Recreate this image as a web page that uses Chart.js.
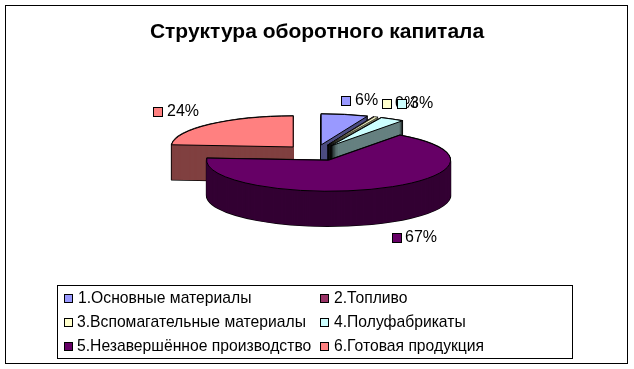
<!DOCTYPE html>
<html>
<head>
<meta charset="utf-8">
<title>Структура оборотного капитала</title>
<script src="https://cdn.jsdelivr.net/npm/chart.js@4"></script>
<style>
  html, body { margin: 0; padding: 0; background: #fff; }
  canvas { display: block; }
</style>
</head>
<body>
<canvas id="my-chart" width="634" height="369"></canvas>
<script>
const categories = ["1.Основные материалы", "2.Топливо", "3.Вспомагательные материалы", "4.Полуфабрикаты", "5.Незавершённое производство", "6.Готовая продукция"];
const shares = [6.2, 0.1, 0.5, 3.2, 66.5, 24.0];
const shareLabels = ["6%", "", "0%", "3%", "67%", "24%"];
const topColors = ["#9999FF", "#993366", "#FFFFCC", "#CCFFFF", "#660066", "#FF8080"];
const sideColors = ["#4C4C80", "#4D1A33", "#808066", "#668080", "#330033", "#804040"];

// fake 3d look
const SQUASH = 0.254;
const DEPTH = 35;
const NUDGE_X = -2;
const PAINT_ORDER = [5, 0, 1, 2, 3, 4];
const FONT = '"Liberation Sans", Arial, sans-serif';

// where the value labels sit: key box x, key box y, text x
const labelSpots = [[341, 96, 355], null, [382, 99, 395], [397, 99, 410], [392, 233, 405], [153, 107, 167]];
// legend keys: x, y, text x
const legendSpots = [[64, 294, 78], [320, 294, 334], [64, 318, 77], [320, 318, 334], [64, 342, 77], [320, 342, 334]];

function slicePath(ctx, el, dy) {
  const mid = (el.startAngle + el.endAngle) / 2;
  const off = el.options.offset;
  const rx = el.outerRadius;
  const x = el.x + NUDGE_X + Math.cos(mid) * off;
  const y = el.y + Math.sin(mid) * off * SQUASH + dy;
  ctx.beginPath();
  ctx.moveTo(x, y);
  ctx.ellipse(x, y, rx, rx * SQUASH, 0, el.startAngle, el.endAngle);
  ctx.closePath();
}

function drawKey(ctx, x, y, size, color) {
  ctx.fillStyle = color;
  ctx.fillRect(x, y, size, size);
  ctx.strokeStyle = "#000";
  ctx.lineWidth = 1;
  ctx.strokeRect(x + 0.5, y + 0.5, size - 1, size - 1);
}

const pie3d = {
  id: "pie3d",
  beforeDraw(chart) {
    const ctx = chart.ctx;
    ctx.save();
    ctx.strokeStyle = "#000";
    ctx.lineWidth = 1;
    ctx.strokeRect(5.5, 5.5, 622, 358);
    ctx.restore();
  },
  beforeDatasetDraw(chart, args) {
    const ctx = chart.ctx;
    const arcs = args.meta.data;
    ctx.save();
    ctx.lineJoin = "round";
    PAINT_ORDER.forEach(i => {
      const el = arcs[i];
      // thin slices would turn solid black with the normal outline
      const thin = el.endAngle - el.startAngle < 0.1;
      // black silhouette of the whole stack first, then the side colour over it
      ctx.strokeStyle = "#000";
      ctx.lineWidth = thin ? 0.6 : 1.4;
      for (let dy = DEPTH; dy >= 0; dy--) {
        slicePath(ctx, el, dy);
        ctx.stroke();
      }
      ctx.fillStyle = sideColors[i];
      for (let dy = DEPTH; dy >= 0; dy--) {
        slicePath(ctx, el, dy);
        ctx.fill();
      }
      slicePath(ctx, el, 0);
      ctx.fillStyle = topColors[i];
      ctx.fill();
      ctx.strokeStyle = "#000";
      ctx.lineWidth = thin ? 0.6 : 1;
      ctx.stroke();
    });
    ctx.restore();
    return false;
  },
  afterDraw(chart) {
    const ctx = chart.ctx;
    ctx.save();
    ctx.textBaseline = "middle";
    ctx.textAlign = "left";

    // value labels
    ctx.font = "16px " + FONT;
    shareLabels.forEach((txt, i) => {
      const spot = labelSpots[i];
      if (!spot) return;
      drawKey(ctx, spot[0], spot[1], 10, topColors[i]);
      ctx.fillStyle = "#000";
      ctx.fillText(txt, spot[2], spot[1] + 5);
    });

    // legend box, two fixed columns
    ctx.fillStyle = "#fff";
    ctx.fillRect(57.5, 285.5, 515, 73);
    ctx.strokeStyle = "#000";
    ctx.lineWidth = 1;
    ctx.strokeRect(57.5, 285.5, 515, 73);
    ctx.font = "15.7px " + FONT;
    categories.forEach((txt, i) => {
      const spot = legendSpots[i];
      drawKey(ctx, spot[0], spot[1], 9, topColors[i]);
      ctx.fillStyle = "#000";
      ctx.fillText(txt, spot[2], spot[1] + 5);
    });
    ctx.restore();
  }
};

const ctx = document.getElementById("my-chart").getContext("2d");
const myChart = new Chart(ctx, {
  type: "pie",
  data: {
    labels: categories,
    datasets: [{
      data: shares,
      backgroundColor: topColors,
      borderColor: "#000",
      borderWidth: 1,
      offset: 32
    }]
  },
  options: {
    responsive: false,
    animation: false,
    radius: 122,
    layout: { padding: { bottom: 108.4 } },
    plugins: {
      legend: { display: false },
      tooltip: { enabled: false },
      title: {
        display: true,
        text: "Структура оборотного капитала",
        color: "#000",
        font: { family: FONT, size: 21, weight: "bold" },
        padding: { top: 20, bottom: 0 }
      }
    }
  },
  plugins: [pie3d]
});
</script>
</body>
</html>
